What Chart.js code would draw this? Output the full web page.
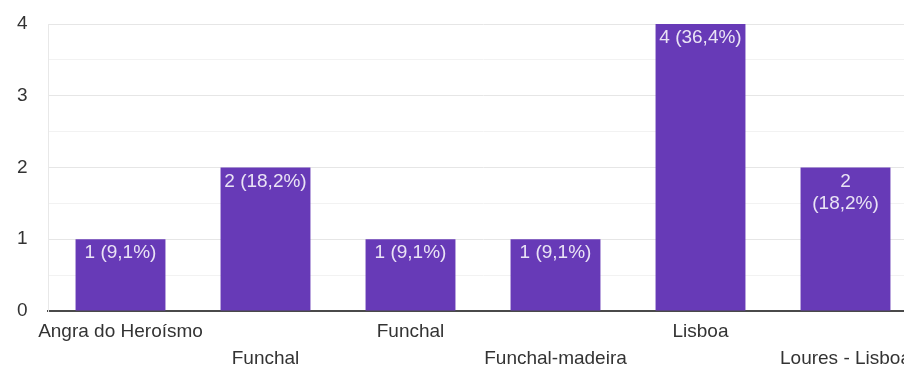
<!DOCTYPE html>
<html lang="pt">
<head>
    <meta charset="UTF-8">
    <title>Localidade</title>
    <script src="https://cdn.jsdelivr.net/npm/chart.js@4.4.1/dist/chart.umd.min.js"></script>
    <style>
        html, body { margin: 0; padding: 0; overflow: hidden; background: #fff; }
    </style>
</head>
<body>
    <canvas id="myChart" width="918" height="368"></canvas>
<script>
    // data
    const categories = ['Angra do Heroísmo', 'Funchal', 'Funchal', 'Funchal-madeira', 'Lisboa', 'Loures - Lisboa'];
    const counts = [1, 2, 1, 1, 4, 2];
    const barLabels = ['1 (9,1%)', '2 (18,2%)', '1 (9,1%)', '1 (9,1%)', '4 (36,4%)', '2\n(18,2%)'];

    // labels alternate between two rows like the original
    const xLabels = categories.map((c, i) => i % 2 ? ['', c] : [c]);

    const FONT = '"Liberation Sans", Arial, sans-serif';

    // draws the count/percent text inside the top of each bar
    const barText = {
        id: 'barText',
        afterDatasetsDraw(chart) {
            const ctx = chart.ctx;
            const meta = chart.getDatasetMeta(0);
            ctx.save();
            ctx.font = '19px ' + FONT;
            ctx.fillStyle = 'rgba(255,255,255,0.86)';
            ctx.textAlign = 'center';
            ctx.textBaseline = 'alphabetic';
            meta.data.forEach((bar, i) => {
                const lines = barLabels[i].split('\n');
                lines.forEach((line, j) => {
                    ctx.fillText(line, bar.x, bar.y + 19 + j * 22);
                });
            });
            ctx.restore();
        }
    };

    new Chart(document.getElementById('myChart').getContext('2d'), {
        type: 'bar',
        data: {
            labels: xLabels,
            datasets: [{
                data: counts,
                backgroundColor: '#673ab7',
                borderWidth: 0,
                barPercentage: 0.62,
                categoryPercentage: 1
            }]
        },
        options: {
            responsive: false,
            animation: false,
            devicePixelRatio: 1,
            layout: { padding: { top: 24, left: 17, right: 0, bottom: 0 } },
            plugins: {
                legend: { display: false },
                tooltip: { enabled: false }
            },
            scales: {
                x: {
                    grid: { display: false, drawTicks: false },
                    border: { display: true, color: '#4a4a4a', width: 2 },
                    ticks: {
                        autoSkip: false,
                        maxRotation: 0,
                        minRotation: 0,
                        padding: 7,
                        color: '#333',
                        font: { family: FONT, size: 19, lineHeight: '27px' }
                    },
                    afterFit(scale) { scale.height = 57; }
                },
                y: {
                    min: 0,
                    max: 4,
                    grid: {
                        drawTicks: false,
                        color: c => Number.isInteger(c.tick.value) ? '#e6e6e6' : '#f2f2f2',
                        lineWidth: 1
                    },
                    border: { display: true, color: '#e8e8e8', width: 1 },
                    ticks: {
                        stepSize: 0.5,
                        padding: 0,
                        crossAlign: 'far',
                        color: '#333',
                        font: { family: FONT, size: 19 },
                        callback: v => Number.isInteger(v) ? v : ''
                    },
                    afterFit(scale) { scale.width = 31; }
                }
            }
        },
        plugins: [barText]
    });
</script>
</body>
</html>
